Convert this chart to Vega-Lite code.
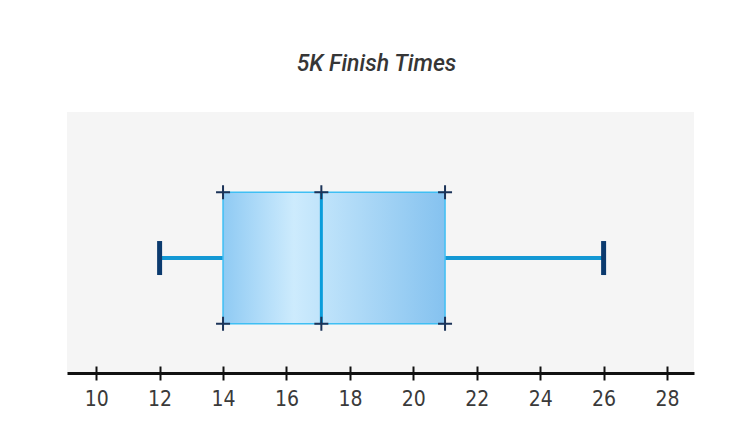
{
  "$schema": "https://vega.github.io/schema/vega-lite/v6.json",
  "width": 627,
  "height": 261,
  "autosize": {"type": "pad"},
  "padding": {"left": 67, "top": 53, "right": 40, "bottom": 10},
  "background": "white",
  "title": {
    "text": "5K Finish Times",
    "font": "Roboto, sans-serif",
    "fontSize": 23,
    "fontStyle": "italic",
    "fontWeight": 500,
    "color": "#363636",
    "offset": 36,
    "dx": -4
  },
  "config": {"view": {"fill": "#f5f5f5", "stroke": null}},
  "data": {"values": [{"race": "5K", "min": 12, "q1": 14, "median": 17.1, "q3": 21, "max": 26}]},
  "resolve": {"axis": {"x": "independent"}},
  "layer": [
    {
      "mark": {"type": "rule", "color": "#1398d4", "strokeWidth": 4},
      "encoding": {
        "x": {
          "field": "min", "type": "quantitative",
          "scale": {"domain": [9.08, 28.85], "nice": false, "zero": false},
          "axis": {
            "orient": "bottom",
            "values": [10, 12, 14, 16, 18, 20, 22, 24, 26, 28],
            "domainColor": "#111111", "domainWidth": 3,
            "tickColor": "#111111", "tickWidth": 2, "tickSize": 7,
            "labelFont": "DejaVu Sans Condensed, sans-serif",
            "labelFontSize": 21, "labelColor": "#3a3a3a", "labelPadding": 8,
            "grid": false, "title": null
          }
        },
        "x2": {"field": "max"},
        "y": {
          "field": "race", "type": "nominal",
          "scale": {"paddingInner": 0, "paddingOuter": 0.492, "align": 0.62},
          "axis": null
        }
      }
    },
    {
      "mark": {
        "type": "bar",
        "opacity": 1,
        "stroke": "#3fbff4",
        "strokeWidth": 1.5,
        "color": {
          "gradient": "linear", "x1": 0, "x2": 1, "y1": 0, "y2": 0,
          "stops": [
            {"offset": 0, "color": "#8fcaf3"},
            {"offset": 0.32, "color": "#cdebfd"},
            {"offset": 1, "color": "#85c2ef"}
          ]
        }
      },
      "encoding": {
        "x": {"field": "q1", "type": "quantitative", "scale": {"domain": [9.08, 28.85], "nice": false, "zero": false}, "axis": null},
        "x2": {"field": "q3"},
        "y": {"field": "race", "type": "nominal", "axis": null}
      }
    },
    {
      "mark": {"type": "tick", "color": "#0a9ddb", "opacity": 1, "thickness": 3, "size": 131},
      "encoding": {
        "x": {"field": "median", "type": "quantitative", "scale": {"domain": [9.08, 28.85], "nice": false, "zero": false}, "axis": null},
        "y": {"field": "race", "type": "nominal", "axis": null}
      }
    },
    {
      "transform": [{"fold": ["min", "max"], "as": ["stat", "value"]}],
      "mark": {"type": "tick", "color": "#0b3a6e", "opacity": 1, "thickness": 5, "size": 34},
      "encoding": {
        "x": {
          "field": "value", "type": "quantitative",
          "scale": {"domain": [9.08, 28.85], "nice": false, "zero": false},
          "axis": {
            "orient": "bottom",
            "values": [10, 12, 14, 16, 18, 20, 22, 24, 26, 28],
            "domain": false, "labels": false, "grid": false, "title": null,
            "tickColor": "#111111", "tickWidth": 2, "tickSize": -7
          }
        },
        "y": {"field": "race", "type": "nominal", "axis": null}
      }
    },
    {
      "transform": [{"fold": ["q1", "median", "q3"], "as": ["stat", "value"]}],
      "mark": {"type": "point", "shape": "M-1,0H1M0,-1V1", "filled": false, "stroke": "#1b3358", "strokeWidth": 2, "size": 196, "opacity": 1},
      "encoding": {
        "x": {"field": "value", "type": "quantitative", "scale": {"domain": [9.08, 28.85], "nice": false, "zero": false}, "axis": null},
        "y": {"field": "race", "type": "nominal", "bandPosition": 0, "axis": null}
      }
    },
    {
      "transform": [{"fold": ["q1", "median", "q3"], "as": ["stat", "value"]}],
      "mark": {"type": "point", "shape": "M-1,0H1M0,-1V1", "filled": false, "stroke": "#1b3358", "strokeWidth": 2, "size": 196, "opacity": 1},
      "encoding": {
        "x": {"field": "value", "type": "quantitative", "scale": {"domain": [9.08, 28.85], "nice": false, "zero": false}, "axis": null},
        "y": {"field": "race", "type": "nominal", "bandPosition": 1, "axis": null}
      }
    }
  ]
}
